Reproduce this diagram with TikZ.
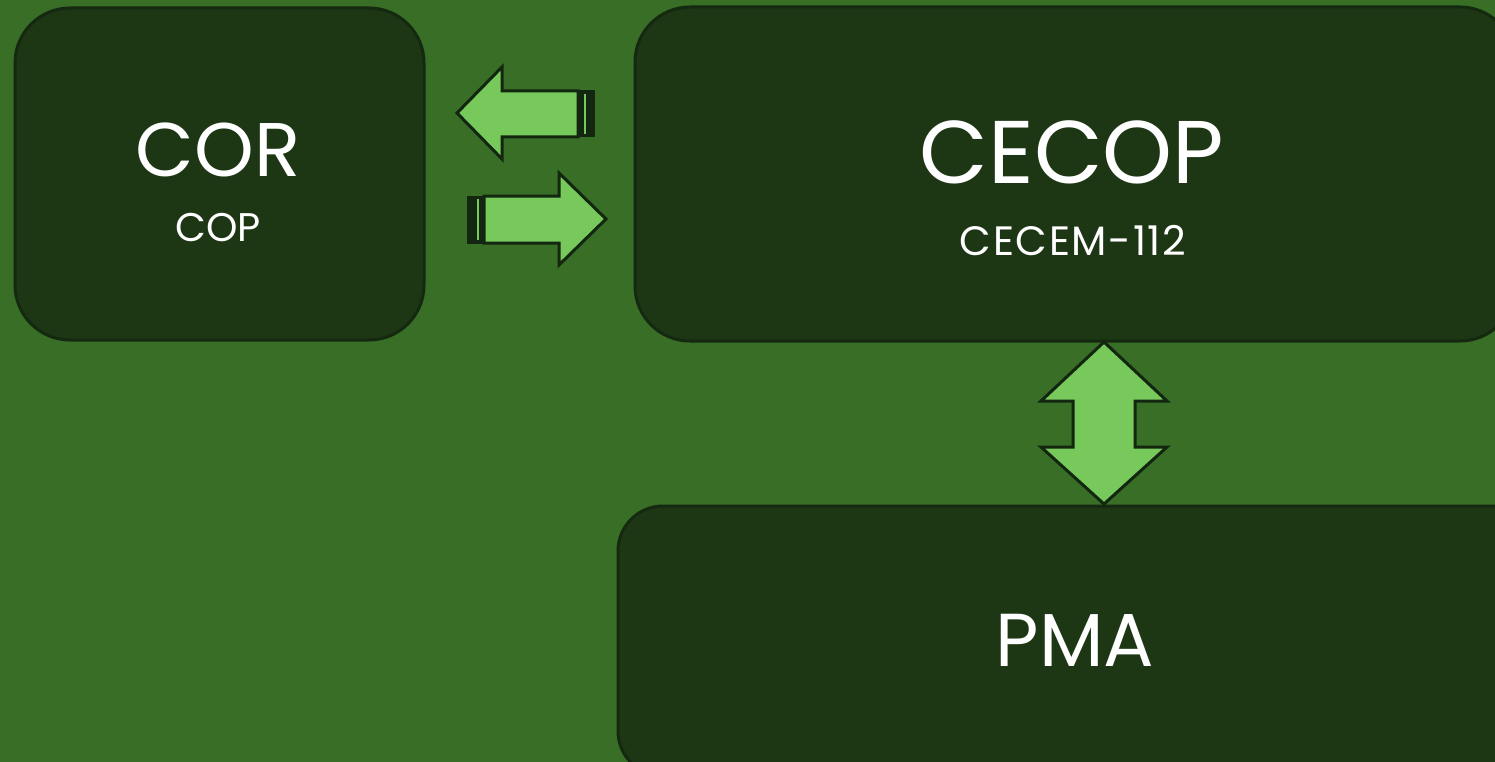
\documentclass[tikz,border=0pt]{standalone}
\usepackage{fontspec}
\setmainfont{Poppins}
\usetikzlibrary{positioning}
\usepackage{xcolor}

\definecolor{bggreen}{HTML}{386E26}
\definecolor{boxfill}{HTML}{1D3715}
\definecolor{boxline}{HTML}{14290F}
\definecolor{arrowfill}{HTML}{78C95C}
\definecolor{arrowline}{HTML}{132610}

\tikzset{
  box/.style={draw=boxline, line width=3pt, fill=boxfill, inner sep=0pt},
  blockarrow/.style={draw=arrowline, line width=3pt, fill=arrowfill},
  stripe/.style={draw=arrowline, fill=arrowline, line width=1pt},
  label/.style={text=white, inner sep=0pt, anchor=base}
}

\newcommand{\fsz}[1]{\fontsize{#1}{#1}\selectfont}

\begin{document}
\begin{tikzpicture}[x=1pt,y=-1pt]

\useasboundingbox (0,0) rectangle (1495,762);
\clip (0,0) rectangle (1495,762);
\fill[bggreen] (0,0) rectangle (1495,762);

% boxes
\node[box, rounded corners=55pt, minimum width=409pt, minimum height=332pt] (cor) at (219.5,174) {};
\node[box, rounded corners=55pt, minimum width=880pt, minimum height=334pt] (cecop) at (1075,174) {};
\node[box, rounded corners=45pt, minimum width=922pt, minimum height=270pt] (pma) at (1079,641) {};

\node[label] (cortitle) at (218,177) {\fsz{76}COR};
\node[label] (corsub) at (218,241) {\fsz{40}COP};
\node[label] (cecoptitle) at (1072,183) {\fsz{89}CECOP};
\node[label] (cecopsub) at (1073,255) {\fsz{41}\addfontfeatures{LetterSpace=4}CECEM-112};
\node[label] (pmatitle) at (1075,666) {\fsz{75}PMA};

% arrows between COR and CECOP
\draw[blockarrow] (457,113)--++(45,-46)--++(0,24)--++(76,0)--++(0,46)--++(-76,0)--++(0,22)--cycle;
\draw[stripe] (578,91) rectangle (594,137);
\draw[arrowfill, line width=2pt] (585,94)--(585,134);

\draw[blockarrow] (606,219)--++(-47,-46)--++(0,23)--++(-75,0)--++(0,47)--++(75,0)--++(0,22)--cycle;
\draw[stripe] (467,196) rectangle (484,243);
\draw[arrowfill, line width=2pt] (477.5,199)--(477.5,240);

% arrow between CECOP and PMA
\draw[blockarrow] (1104,342)--++(63,59)--++(-32,0)--++(0,46)--++(32,0)--++(-63,57)--++(-63,-57)--++(32,0)--++(0,-46)--++(-32,0)--cycle;

\end{tikzpicture}
\end{document}
